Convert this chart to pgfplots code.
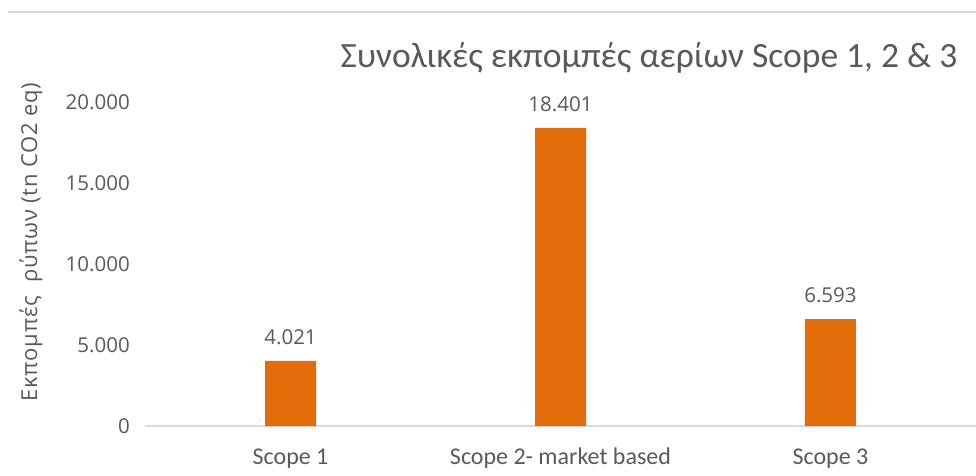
\documentclass[border=0pt]{standalone}
\usepackage{pgfplots}
\pgfplotsset{compat=1.18}
\usepackage{fontspec}
\setmainfont{Carlito}
\newfontfamily\osans{Open Sans}
\definecolor{barorange}{HTML}{E36C0A}
\definecolor{txtgray}{HTML}{595959}
\definecolor{linegray}{HTML}{D9D9D9}
\begin{document}
\begin{tikzpicture}
\useasboundingbox (0,0) rectangle (976bp,476bp);
\draw[linegray, line width=2bp] (8bp,464bp) -- (976bp,464bp);
\begin{axis}[
  at={(145bp,50bp)}, anchor=south west,
  scale only axis, width=831bp, height=324bp,
  xmin=-0.539, xmax=2.539, ymin=0, ymax=20000,
  axis lines*=left,
  x axis line style={-, linegray, line width=1.5bp},
  y axis line style={draw=none},
  xtick={0,1,2},
  xticklabels={Scope 1, Scope 2- market based, Scope 3},
  ytick={0,5000,10000,15000,20000},
  yticklabels={0,5.000,10.000,15.000,20.000},
  scaled y ticks=false,
  major tick length=0pt,
  tick style={draw=none},
  xticklabel style={font=\fontsize{24bp}{28bp}\selectfont, text=txtgray, inner sep=0pt, anchor=base, yshift=-38bp},
  yticklabel style={font=\osans\fontsize{20.5bp}{24bp}\selectfont, text=txtgray, inner sep=0pt, anchor=east, xshift=-15bp},
  /pgf/number format/assume math mode=true,
  ybar, bar width=51bp,
  nodes near coords={\pgfmathprintnumber[fixed, 1000 sep={.}]{\pgfplotspointmeta}},
  every node near coord/.append style={font=\osans\fontsize{20.5bp}{24bp}\selectfont, text=txtgray, inner sep=0pt, anchor=south, yshift=16bp},
  clip=false,
]
\addplot[fill=barorange, draw=none] coordinates {(0,4021) (1,18401) (2,6593)};
\end{axis}
\node[rotate=90, text=txtgray, font=\osans\fontsize{22bp}{26bp}\selectfont\addfontfeatures{LetterSpace=3.5}] at (31bp,234bp) {Εκπομπές\ \ ρύπων (tn CO2 eq)};
\node[text=txtgray, font=\fontsize{35.5bp}{40bp}\selectfont] at (649bp,418bp) {Συνολικές εκπομπές αερίων Scope 1, 2 \& 3};
\end{tikzpicture}
\end{document}
